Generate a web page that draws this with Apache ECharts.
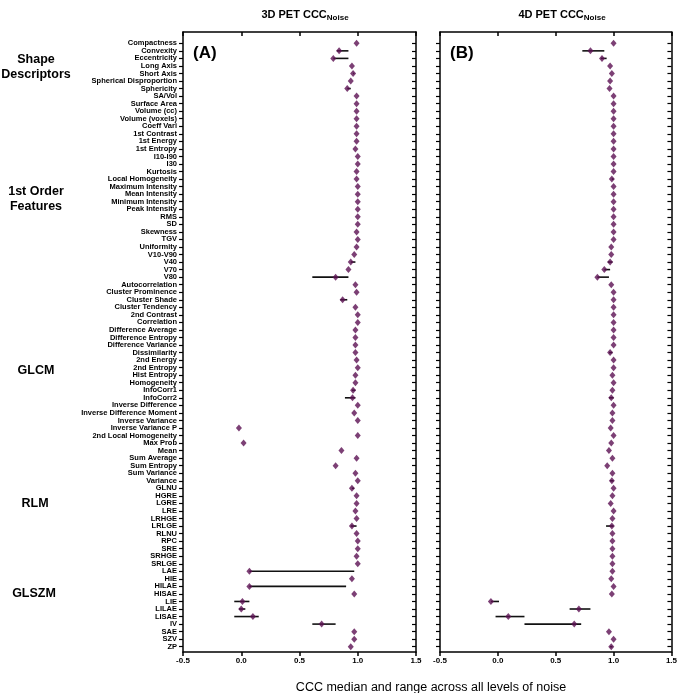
<!DOCTYPE html>
<html>
<head>
<meta charset="utf-8">
<script src="https://cdn.jsdelivr.net/npm/echarts@6/dist/echarts.min.js"></script>
<style>
  html, body { margin: 0; padding: 0; background: #fff; }
  #chart { width: 680px; height: 693px; }
</style>
</head>
<body>
<div id="chart"></div>
<script>
// feature names, top to bottom
var features = ['Compactness','Convexity','Eccentricity','Long Axis','Short Axis','Spherical Disproportion','Sphericity',
  'SA/Vol','Surface Area','Volume (cc)','Volume (voxels)','Coeff Vari','1st Contrast','1st Energy','1st Entropy','I10-I90','I30',
  'Kurtosis','Local Homogeneity','Maximum Intensity','Mean Intensity','Minimum Intensity','Peak Intensity','RMS','SD','Skewness',
  'TGV','Uniformity','V10-V90','V40','V70','V80','Autocorrelation','Cluster Prominence','Cluster Shade','Cluster Tendency',
  '2nd Contrast','Correlation','Difference Average','Difference Entropy','Difference Variance','Dissimilarity','2nd Energy',
  '2nd Entropy','Hist Entropy','Homogeneity','InfoCorr1','InfoCorr2','Inverse Difference','Inverse Difference Moment',
  'Inverse Variance','Inverse Variance P','2nd Local Homogeneity','Max Prob','Mean','Sum Average','Sum Entropy','Sum Variance',
  'Variance','GLNU','HGRE','LGRE','LRE','LRHGE','LRLGE','RLNU','RPC','SRE','SRHGE','SRLGE','LAE','HIE','HILAE','HISAE',
  'LIE','LILAE','LISAE','IV','SAE','SZV','ZP'];

// 3D PET CCC (noise): median, min, max
var med3d = [0.99,0.84,0.79,0.95,0.96,0.94,0.91,0.99,0.99,0.99,0.99,0.99,0.99,0.99,0.98,1.00,1.00,
  0.99,0.99,1.00,1.00,1.00,1.00,1.00,1.00,0.99,1.00,0.99,0.97,0.94,0.92,0.81,0.98,0.99,0.87,0.98,
  1.00,1.00,0.98,0.98,0.98,0.98,0.99,1.00,0.98,0.98,0.96,0.955,1.00,0.97,1.00,-0.02,1.00,0.02,0.86,
  0.99,0.81,0.98,1.00,0.95,0.99,0.99,0.98,0.99,0.95,0.99,1.00,1.00,0.99,1.00,0.07,0.95,0.07,0.97,
  0.01,0.00,0.10,0.69,0.97,0.97,0.94];
var lo3d = [0.99,0.82,0.79,0.95,0.96,0.94,0.91,0.99,0.99,0.99,0.99,0.99,0.99,0.99,0.98,1.00,1.00,
  0.99,0.99,1.00,1.00,1.00,1.00,1.00,1.00,0.99,1.00,0.99,0.97,0.94,0.92,0.61,0.98,0.99,0.85,0.98,
  1.00,1.00,0.98,0.98,0.98,0.98,0.99,1.00,0.98,0.98,0.95,0.89,1.00,0.97,1.00,-0.02,1.00,0.02,0.86,
  0.99,0.81,0.98,1.00,0.95,0.99,0.99,0.98,0.99,0.94,0.99,1.00,1.00,0.99,1.00,0.07,0.95,0.07,0.97,
  -0.06,-0.02,-0.06,0.61,0.97,0.97,0.94];
var hi3d = [0.99,0.92,0.92,0.95,0.97,0.94,0.94,0.99,0.99,0.99,0.99,0.99,0.99,0.99,0.98,1.00,1.00,
  0.99,0.99,1.00,1.00,1.00,1.00,1.00,1.00,0.99,1.00,0.99,0.97,0.98,0.92,0.92,0.98,0.99,0.91,0.98,
  1.00,1.00,0.98,0.98,0.98,0.98,0.99,1.00,0.98,0.98,0.98,0.98,1.00,0.97,1.00,-0.02,1.00,0.02,0.86,
  0.99,0.81,0.98,1.00,0.97,0.99,0.99,0.98,0.99,0.99,0.99,1.00,1.00,0.99,1.00,0.97,0.95,0.90,0.97,
  0.07,0.035,0.15,0.81,0.97,0.97,0.94];

// 4D PET CCC (noise): median, min, max
var med4d = [1.00,0.80,0.90,0.97,0.985,0.97,0.965,1.00,1.00,1.00,1.00,1.00,1.00,1.00,1.00,1.00,1.00,
  1.00,0.985,1.00,1.00,1.00,1.00,1.00,1.00,1.00,1.00,0.98,0.98,0.97,0.92,0.86,0.98,1.00,1.00,1.00,
  1.00,1.00,1.00,1.00,1.00,0.97,1.00,1.00,0.99,1.00,0.99,0.98,1.00,0.99,0.99,0.975,1.00,0.98,0.96,
  0.99,0.945,0.99,0.985,1.00,0.99,0.975,1.00,0.99,0.985,0.99,0.99,0.99,0.99,0.99,0.99,0.98,1.00,0.985,
  -0.06,0.70,0.09,0.66,0.96,1.00,0.98];
var lo4d = [1.00,0.73,0.89,0.97,0.985,0.97,0.965,1.00,1.00,1.00,1.00,1.00,1.00,1.00,1.00,1.00,1.00,
  1.00,0.985,1.00,1.00,1.00,1.00,1.00,1.00,1.00,1.00,0.98,0.98,0.95,0.92,0.86,0.98,1.00,1.00,1.00,
  1.00,1.00,1.00,1.00,1.00,0.96,1.00,1.00,0.99,1.00,0.99,0.96,1.00,0.99,0.99,0.975,1.00,0.98,0.96,
  0.99,0.945,0.99,0.97,1.00,0.99,0.975,1.00,0.99,0.935,0.99,0.99,0.99,0.99,0.99,0.99,0.98,1.00,0.985,
  -0.06,0.62,-0.02,0.23,0.96,1.00,0.97];
var hi4d = [1.00,0.92,0.94,0.97,0.985,0.97,0.965,1.00,1.00,1.00,1.00,1.00,1.00,1.00,1.00,1.00,1.00,
  1.00,1.00,1.00,1.00,1.00,1.00,1.00,1.00,1.00,1.00,0.98,0.98,0.99,0.97,0.96,0.98,1.00,1.00,1.00,
  1.00,1.00,1.00,1.00,1.00,0.99,1.00,1.00,0.99,1.00,0.99,1.00,1.00,0.99,0.99,0.975,1.00,0.98,0.96,
  0.99,0.945,0.99,1.00,1.00,0.99,0.975,1.00,0.99,1.00,0.99,0.99,0.99,0.99,0.99,0.99,0.98,1.00,0.985,
  0.01,0.80,0.23,0.72,0.96,1.00,0.99];

var xTicks = [-0.5, 0.0, 0.5, 1.0, 1.5];

var chart = echarts.init(document.getElementById('chart'));
var idx = features.map(function (f, i) { return i; });
var evenIdx = idx.filter(function (i) { return i % 2 === 0; });
var oddIdx = idx.filter(function (i) { return i % 2 === 1; });
var ink = '#000';
var purple = '#5b1052';

function xAxes(grid) {
  return [{
    type: 'value', gridIndex: grid, position: 'bottom',
    min: xTicks[0], max: xTicks[xTicks.length - 1], interval: 0.5,
    splitLine: { show: false },
    axisLine: { onZero: false, lineStyle: { color: ink, width: 1.5 } },
    axisTick: { length: 4, lineStyle: { color: ink, width: 1.5 } },
    axisLabel: { color: ink, fontSize: 8, fontWeight: 'bold', margin: 5, showMinLabel: true, showMaxLabel: true,
      fontFamily: 'Liberation Sans', formatter: function (v) { return v.toFixed(1); } }
  }, {
    type: 'value', gridIndex: grid, position: 'top',
    min: xTicks[0], max: xTicks[xTicks.length - 1], interval: 0.5,
    splitLine: { show: false },
    axisLine: { onZero: false, lineStyle: { color: ink, width: 1.5 } },
    axisTick: { inside: true, length: 4, lineStyle: { color: ink, width: 1.5 } },
    axisLabel: { show: false }
  }];
}

function featureLabels(values, show) {
  return { show: show, customValues: values, color: ink, fontSize: 7.5, fontWeight: 'bold',
    showMinLabel: true, showMaxLabel: true, hideOverlap: false,
    fontFamily: 'Liberation Sans', margin: 6, formatter: function (v) { return features[v]; } };
}

// left frame (ticks + even labels), a label-only twin for odd labels, right frame
function yAxes(grid, withLabels) {
  var axes = [{
    type: 'value', gridIndex: grid, position: 'left', inverse: true,
    min: -1.5, max: 80.7,
    splitLine: { show: false },
    axisLine: { onZero: false, lineStyle: { color: ink, width: 1.5 } },
    axisTick: { customValues: idx, length: 4, lineStyle: { color: ink, width: 1.2 } },
    axisLabel: featureLabels(evenIdx, withLabels)
  }];
  if (withLabels) {
    axes.push({
      type: 'value', gridIndex: grid, position: 'left', offset: 0, inverse: true,
      min: -1.5, max: 80.7,
      splitLine: { show: false },
      axisLine: { show: false, onZero: false },
      axisTick: { show: false },
      axisLabel: featureLabels(oddIdx, true)
    });
  }
  axes.push({
    type: 'value', gridIndex: grid, position: 'right', inverse: true,
    min: -1.5, max: 80.7,
    splitLine: { show: false },
    axisLine: { onZero: false, lineStyle: { color: ink, width: 1.5 } },
    axisTick: { customValues: idx, inside: true, length: 4, lineStyle: { color: ink, width: 1.2 } },
    axisLabel: { show: false }
  });
  return axes;
}

function rangeSeries(lo, hi, xi, yi) {
  return {
    type: 'custom', xAxisIndex: xi, yAxisIndex: yi, z: 2, silent: true,
    data: idx.map(function (i) { return [lo[i], hi[i], i]; }),
    renderItem: function (params, api) {
      if (api.value(0) === api.value(1)) return null;
      var a = api.coord([api.value(0), api.value(2)]);
      var b = api.coord([api.value(1), api.value(2)]);
      return { type: 'line', shape: { x1: a[0], y1: a[1], x2: b[0], y2: b[1] },
        style: { stroke: '#111', lineWidth: 1.6 } };
    }
  };
}

function medianSeries(med, xi, yi) {
  return {
    type: 'scatter', xAxisIndex: xi, yAxisIndex: yi, z: 3, silent: true,
    symbol: 'diamond', symbolSize: [6, 7],
    itemStyle: { color: purple },
    data: idx.map(function (i) { return [med[i], i]; })
  };
}

var option = {
  animation: false,
  backgroundColor: '#fff',
  textStyle: { fontFamily: 'Liberation Sans' },
  title: [{
    text: '{m|3D PET CCC}{s|Noise}', left: 300, top: 2, textAlign: 'center',
    textStyle: { rich: {
      m: { fontSize: 11, fontWeight: 'bold', color: ink, fontFamily: 'Liberation Sans' },
      s: { fontSize: 8, fontWeight: 'bold', color: ink, fontFamily: 'Liberation Sans', padding: [7, 0, 0, 0] } } }
  }, {
    text: '{m|4D PET CCC}{s|Noise}', left: 557, top: 2, textAlign: 'center',
    textStyle: { rich: {
      m: { fontSize: 11, fontWeight: 'bold', color: ink, fontFamily: 'Liberation Sans' },
      s: { fontSize: 8, fontWeight: 'bold', color: ink, fontFamily: 'Liberation Sans', padding: [7, 0, 0, 0] } } }
  }, {
    text: 'CCC median and range across all levels of noise', left: 426, top: 676, textAlign: 'center',
    textStyle: { fontSize: 12.5, fontWeight: 'normal', color: ink, fontFamily: 'Liberation Sans' }
  }],
  grid: [
    { left: 183, width: 233, top: 32, height: 620 },
    { left: 440, width: 233, top: 32, height: 620 }
  ],
  xAxis: xAxes(0).concat(xAxes(1)),
  yAxis: yAxes(0, true).concat(yAxes(1, false)),
  graphic: [
    { type: 'text', left: 193, top: 45, style: { text: '(A)', fontSize: 17, fontWeight: 'bold', fill: ink, fontFamily: 'Liberation Sans' } },
    { type: 'text', left: 450, top: 45, style: { text: '(B)', fontSize: 17, fontWeight: 'bold', fill: ink, fontFamily: 'Liberation Sans' } },
    { type: 'text', x: 36, y: 67, style: { text: 'Shape\nDescriptors', align: 'center', verticalAlign: 'middle', lineHeight: 15, fontSize: 12.5, fontWeight: 'bold', fill: ink, fontFamily: 'Liberation Sans' } },
    { type: 'text', x: 36, y: 199, style: { text: '1st Order\nFeatures', align: 'center', verticalAlign: 'middle', lineHeight: 15, fontSize: 12.5, fontWeight: 'bold', fill: ink, fontFamily: 'Liberation Sans' } },
    { type: 'text', x: 36, y: 371, style: { text: 'GLCM', align: 'center', verticalAlign: 'middle', fontSize: 12.5, fontWeight: 'bold', fill: ink, fontFamily: 'Liberation Sans' } },
    { type: 'text', x: 35, y: 504, style: { text: 'RLM', align: 'center', verticalAlign: 'middle', fontSize: 12.5, fontWeight: 'bold', fill: ink, fontFamily: 'Liberation Sans' } },
    { type: 'text', x: 34, y: 594, style: { text: 'GLSZM', align: 'center', verticalAlign: 'middle', fontSize: 12.5, fontWeight: 'bold', fill: ink, fontFamily: 'Liberation Sans' } }
  ],
  series: [
    rangeSeries(lo3d, hi3d, 0, 0),
    medianSeries(med3d, 0, 0),
    rangeSeries(lo4d, hi4d, 2, 3),
    medianSeries(med4d, 2, 3)
  ]
};
chart.setOption(option);
</script>
</body>
</html>
